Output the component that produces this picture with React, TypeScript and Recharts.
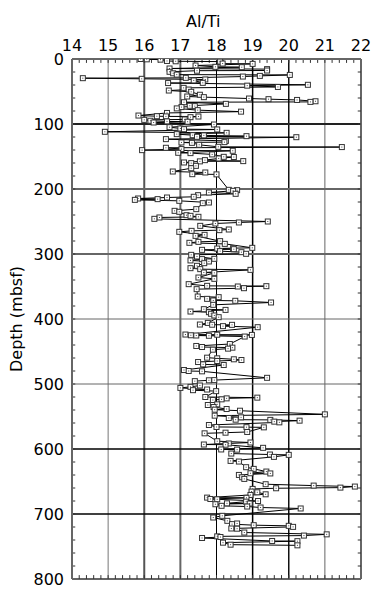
import React from 'react';
import { ScatterChart, Scatter, XAxis, YAxis, ReferenceLine } from 'recharts';

// depth (mbsf) and Al/Ti ratio, in depth order
const depthMbsf = [
  0, 0.5, 1, 3, 3.5, 4, 7, 7.5, 10, 12, 12.6, 14.6, 15.6, 17.7, 18, 19.7, 22, 24, 24.5, 26,
  27, 29, 29.5, 30.5, 31.5, 33, 36.7, 37, 39.7, 41, 43, 44.4, 47, 48.5, 50.5, 55, 57.7, 58.7, 60.8, 61.8,
  63, 65, 66, 66.5, 69, 72, 72.5, 74, 76, 78.7, 81, 83, 87, 88, 88.3, 88.5, 89.5, 93, 93.6, 95,
  96, 96.5, 97.7, 100.8, 104.9, 106.9, 108, 108.4, 112, 113.6, 115.6, 117.2, 117.5, 118.7, 119.7, 120.3, 123.3, 126, 127.9, 128.4,
  129, 132, 135.1, 135.5, 136.6, 138.6, 140.2, 141.2, 144.3, 144.8, 146.8, 150.5, 150.8, 153, 155.6, 157.1, 157.5, 159.2, 160.2, 164.4,
  168, 173.1, 174.6, 177.2, 177.5, 201.3, 201.8, 202.8, 205.4, 207.4, 209.5, 212, 213.1, 214.6, 215.6, 216.7, 218.2, 220.8, 221.8, 231,
  233.6, 235.1, 240.3, 241.3, 242.8, 243.8, 245.9, 250, 251.5, 253.1, 256.7, 262.3, 263.3, 264.4, 265.9, 270.5, 272.1, 280.2, 281.3, 282.8,
  284.4, 290.5, 291, 291.6, 292.6, 293.6, 295.6, 297.2, 299.7, 301.3, 303.8, 307.4, 307.9, 309.9, 311.5, 314.1, 318.2, 321.8, 323.3, 324.4,
  328.5, 329, 336.2, 338.2, 346.4, 349, 349.5, 350, 352.6, 354.1, 365.4, 366.4, 369, 371.5, 372, 374.6, 378.2, 384.9, 386, 388.5,
  389.5, 392, 394.6, 397.2, 406, 408.5, 408.8, 409, 411, 412.6, 423.9, 424.2, 424.5, 425, 425.4, 425.8, 427, 438.5, 441.5, 443.1,
  444.1, 445.6, 447.2, 459.5, 460.5, 462, 463.1, 464.6, 466.2, 469.8, 470.8, 478.5, 480, 480.5, 490.5, 494, 494.3, 495.6, 502.3, 504.4,
  506, 508.5, 509.5, 511, 520, 521, 522.1, 523.6, 524.6, 531.3, 532.3, 535.4, 538.5, 539.5, 541.1, 546.7, 548.7, 551.3, 552.3, 554.9,
  555.2, 556.4, 557.9, 559, 563.1, 566.1, 566.4, 566.7, 573.8, 574.9, 575.9, 588, 590, 591.5, 593.1, 593.4, 598.2, 600.7, 601, 607,
  608.5, 609, 612.1, 618.3, 619.3, 628, 630.6, 634.7, 637.3, 637.6, 639.9, 643.5, 646, 654.2, 656.3, 657.8, 659.4, 660.4, 661.4, 665.5,
  666.6, 669.7, 670.7, 674.8, 675.1, 676.9, 677.4, 680, 681, 683.6, 683.9, 685, 687.4, 688.5, 690, 691.5, 702.8, 705.4, 710.5, 714.6,
  715.6, 717.2, 718.2, 719.8, 722.3, 722.6, 728.5, 731.3, 733.2, 734.4, 735.4, 736.9, 741.5, 741.8, 744.1, 747.2, 748.2,
];

const alTi = [
  15.9, 16.07, 16.45, 16.63, 16.87, 18.1, 18.17, 19.0, 17.42, 17.97, 18.7, 16.7, 19.4, 19.4, 17.46, 16.7, 16.8, 16.9, 20.03, 19.2,
  18.73, 17.15, 14.3, 15.93, 17.69, 17.37, 17.62, 16.66, 20.53, 18.85, 19.7, 17.09, 17.23, 16.68, 17.3, 17.54, 17.19, 17.65, 18.9, 19.44,
  20.23, 20.74, 20.6, 17.1, 18.26, 17.26, 17.4, 17.03, 16.9, 17.48, 18.68, 16.63, 15.84, 16.35, 16.6, 17.5, 17.28, 17.12, 16.0, 16.17,
  16.63, 17.2, 16.26, 17.93, 16.7, 17.0, 17.1, 18.02, 14.91, 18.28, 16.9, 17.34, 17.65, 18.83, 17.46, 20.21, 16.6, 18.26, 18.22, 17.03,
  17.32, 17.52, 18.05, 21.47, 16.6, 17.03, 15.94, 18.45, 16.94, 17.28, 17.88, 18.2, 18.48, 18.06, 17.68, 18.74, 17.54, 17.1, 17.3, 17.43,
  17.3, 16.79, 17.69, 17.33, 18.0, 18.34, 18.57, 18.46, 17.79, 18.53, 17.49, 17.37, 16.63, 15.83, 16.37, 15.74, 16.97, 17.79, 17.62, 17.44,
  16.84, 16.97, 17.17, 17.28, 17.5, 16.42, 16.28, 19.42, 18.62, 17.97, 17.55, 18.34, 18.08, 17.31, 16.97, 17.67, 17.42, 18.1, 17.5, 17.25,
  18.23, 18.99, 18.46, 18.02, 18.48, 17.6, 18.1, 18.69, 18.82, 17.3, 17.46, 17.94, 17.6, 17.28, 17.79, 17.66, 17.46, 17.28, 17.55, 18.94,
  17.65, 17.94, 17.5, 17.94, 17.23, 17.74, 19.38, 18.59, 18.76, 17.45, 17.48, 18.06, 17.74, 17.91, 18.52, 19.51, 17.91, 17.65, 18.25, 17.28,
  17.79, 17.85, 17.94, 18.06, 17.76, 17.54, 17.88, 18.43, 18.18, 19.14, 17.14, 18.02, 18.98, 17.29, 17.44, 17.79, 18.78, 18.37, 17.44, 17.6,
  18.44, 18.32, 17.9, 17.74, 18.02, 18.48, 18.69, 18.02, 17.49, 17.63, 18.2, 17.1, 17.23, 17.6, 19.4, 17.94, 17.79, 17.4, 17.54, 17.28,
  17.0, 17.74, 17.35, 17.99, 17.69, 19.13, 18.28, 18.14, 17.9, 18.02, 17.76, 17.92, 18.28, 17.95, 18.65, 21.0, 17.95, 18.68, 18.34, 18.53,
  19.49, 20.3, 19.6, 19.74, 17.79, 18.0, 18.83, 19.31, 18.85, 18.25, 17.67, 18.02, 18.94, 18.34, 17.65, 18.25, 19.29, 18.13, 18.57, 18.41,
  19.48, 20.0, 19.59, 18.39, 18.62, 18.82, 19.03, 19.38, 18.94, 19.49, 18.62, 18.71, 18.77, 19.36, 20.69, 21.83, 21.43, 19.65, 19.0, 18.97,
  19.13, 19.36, 18.94, 17.74, 18.83, 17.83, 18.02, 19.15, 18.82, 18.29, 18.92, 17.97, 18.14, 18.85, 19.22, 20.33, 18.16, 17.91, 18.3, 18.57,
  18.43, 19.03, 20.0, 20.12, 18.41, 18.57, 18.77, 21.05, 20.42, 18.02, 18.11, 17.6, 19.54, 20.24, 18.18, 18.39, 20.24,
];

const xTicks = [14, 15, 16, 17, 18, 19, 20, 21, 22];
const yTicks = [0, 100, 200, 300, 400, 500, 600, 700, 800];

const points = depthMbsf.map((d, i) => ({ depth: d, ratio: alTi[i] }));

// grid lines as printed: some heavier / darker than others
const gridX = [
  { v: 15, c: '#777', w: 1 },
  { v: 16, c: '#555', w: 2 },
  { v: 17, c: '#666', w: 2 },
  { v: 18, c: '#000', w: 1 },
  { v: 19, c: '#000', w: 1.5 },
  { v: 20, c: '#111', w: 1.5 },
  { v: 21, c: '#666', w: 1 },
];
const gridY = [
  { v: 100, c: '#222', w: 2 },
  { v: 200, c: '#666', w: 2 },
  { v: 300, c: '#666', w: 2 },
  { v: 400, c: '#666', w: 1 },
  { v: 500, c: '#666', w: 1 },
  { v: 600, c: '#000', w: 1.5 },
  { v: 700, c: '#000', w: 1.5 },
];

const minorX: number[] = [];
for (let i = 1; i < 40; i++) minorX.push(14 + i * 0.2);
const minorY: number[] = [];
for (let d = 20; d < 800; d += 20) minorY.push(d);

const frame = '#666';
const font = '"DejaVu Sans", Verdana, sans-serif';

const Square = (props: any) => {
  const { cx, cy } = props;
  if (cx == null || cy == null) return null;
  return (
    <g>
      <rect x={cx - 2.5} y={cy - 2.5} width={5} height={5} fill="#fff" stroke="#333" strokeWidth={1} />
      <rect x={cx - 0.5} y={cy - 0.5} width={1} height={1} fill="#444" />
    </g>
  );
};

export default function App() {
  const tickStyle = { fontSize: 16, fill: '#000', fontFamily: font };
  return (
    <div style={{ position: 'relative', width: 387, height: 596 }}>
      <style>{'body{margin:0}'}</style>
      <ScatterChart
        width={387}
        height={596}
        margin={{ top: 28, right: 26, bottom: 17, left: 10 }}
      >
        <XAxis
          type="number"
          dataKey="ratio"
          orientation="top"
          domain={[14, 22]}
          ticks={xTicks}
          height={31}
          tickLine={false}
          tickSize={6}
          tickMargin={2}
          axisLine={{ stroke: frame, strokeWidth: 2 }}
          tick={tickStyle}
          allowDataOverflow
        />
        <YAxis
          type="number"
          dataKey="depth"
          reversed
          domain={[0, 800]}
          ticks={yTicks}
          width={62}
          tickLine={false}
          tickSize={6}
          tickMargin={2}
          axisLine={{ stroke: frame, strokeWidth: 2 }}
          tick={tickStyle}
          allowDataOverflow
        />
        {gridX.map((g) => (
          <ReferenceLine key={'gx' + g.v} x={g.v} stroke={g.c} strokeWidth={g.w} />
        ))}
        {gridY.map((g) => (
          <ReferenceLine key={'gy' + g.v} y={g.v} stroke={g.c} strokeWidth={g.w} />
        ))}
        <ReferenceLine x={22} stroke={frame} strokeWidth={2} />
        <ReferenceLine y={800} stroke={frame} strokeWidth={2} />
        {minorX.map((v) => (
          <ReferenceLine key={'mt' + v} segment={[{ x: v, y: 0 }, { x: v, y: 6 }]} stroke="#333" strokeWidth={1} />
        ))}
        {minorX.map((v) => (
          <ReferenceLine key={'mb' + v} segment={[{ x: v, y: 794 }, { x: v, y: 800 }]} stroke="#333" strokeWidth={1} />
        ))}
        {minorY.map((d) => (
          <ReferenceLine key={'ml' + d} segment={[{ x: 14, y: d }, { x: 14.09, y: d }]} stroke="#333" strokeWidth={1} />
        ))}
        {minorY.map((d) => (
          <ReferenceLine key={'mr' + d} segment={[{ x: 21.91, y: d }, { x: 22, y: d }]} stroke="#333" strokeWidth={1} />
        ))}
        <Scatter
          data={points}
          line={{ stroke: '#000', strokeWidth: 1 }}
          shape={Square}
          isAnimationActive={false}
        />
      </ScatterChart>
      <svg
        width={387}
        height={596}
        style={{ position: 'absolute', left: 0, top: 0, pointerEvents: 'none' }}
      >
        <text x={186} y={27} textAnchor="start" fontSize={16} fontFamily={font} fill="#000">
          Al/Ti
        </text>
        <text
          x={0}
          y={0}
          transform="translate(22,319) rotate(-90)"
          textAnchor="middle"
          fontSize={16}
          fontFamily={font}
          fill="#000"
        >
          Depth (mbsf)
        </text>
      </svg>
    </div>
  );
}
